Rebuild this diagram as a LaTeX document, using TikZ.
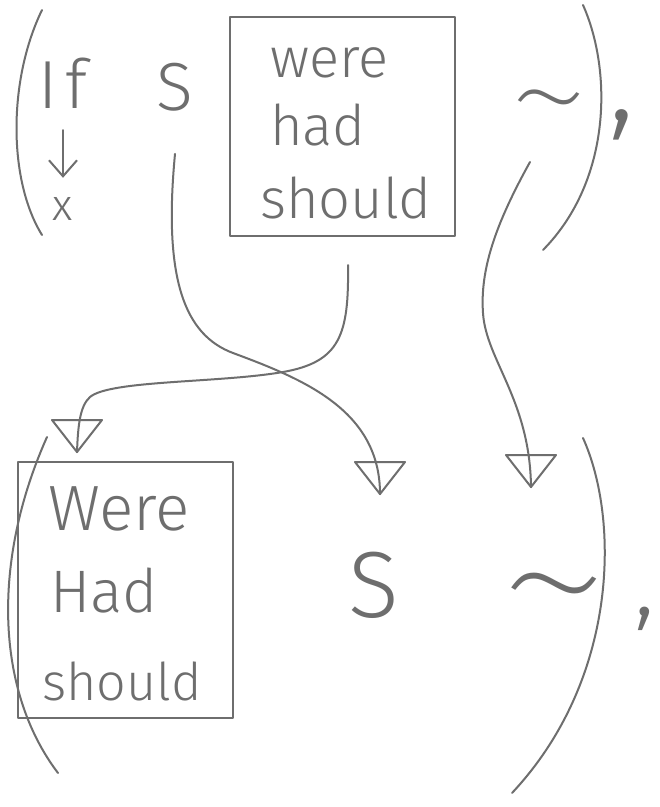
\documentclass[tikz,border=0pt]{standalone}
\usepackage{fontspec}
\IfFontExistsTF{Fira Sans Light}{\setmainfont{Fira Sans Light}}{\setmainfont{Fira Sans}}
\IfFontExistsTF{Fira Sans Thin}{\newfontfamily\thinfont{Fira Sans Thin}}{\newfontfamily\thinfont{Fira Sans}}
\usetikzlibrary{arrows.meta}
\definecolor{ink}{HTML}{6E6E6E}
\newcommand\fsz[1]{\fontsize{#1}{#1}\selectfont}
\tikzset{
  stroke/.style={draw=ink, line width=2pt, line cap=round, line join=round},
  word/.style={text=ink, inner sep=0pt, anchor=base west},
  sym/.style={text=ink, inner sep=0pt, anchor=base},
  frame/.style={stroke, inner sep=0pt},
  opentip/.pic={\draw[stroke] (-25,-32) -- (25,-32) -- (0,0) -- cycle;},
  downarrow/.style={stroke, -{Straight Barb[length=16pt,width=28pt,line width=2pt]}}
}
\begin{document}
\begin{tikzpicture}[x=1pt,y=-1pt]
\useasboundingbox (0,0) rectangle (660,807);
\fill[white] (0,0) rectangle (660,807);

% ---------- top row ----------
\draw[stroke] (42,10) .. controls (8,80) and (8,180) .. (42,235);
\node[sym, font=\fsz{68}] (if) at (63,108) {I\kern8pt f};
\node[sym, font=\fsz{44}] (x) at (63,220) {x};
\draw[downarrow, shorten <=22pt, shorten >=19pt] (if.south) -- (x.north);
\node[sym, font=\fsz{68}] (s1) at (175,110) {S};
\node[frame, minimum width=225pt, minimum height=219pt] (box1) at (342.5,126.5) {};
\node[word, font=\fsz{56}] (were1) at (270,77) {were};
\node[word, font=\fsz{56}] (had1) at (270,145) {had};
\node[word, font=\fsz{56}] (should1) at (260,218) {should};
\node[sym, font=\thinfont\fsz{195}] (t1) at (549,159) {\textasciitilde};
\draw[stroke] (583,5) .. controls (612,70) and (612,180) .. (543,250);
\node[sym, font=\fsz{130}] (c1) at (622,120) {,};

% ---------- bottom row ----------
\draw[stroke] (47,437) .. controls (-8,560) and (-5,690) .. (58,773);
\node[frame, minimum width=215pt, minimum height=256pt] (box2) at (125.5,590) {};
\node[word, font=\fsz{64}] (were2) at (48,530) {Were};
\node[word, font=\fsz{60}] (had2) at (50,612) {Had};
\node[word, font=\fsz{52}] (should2) at (42,700) {should};
\node[sym, font=\fsz{94}] (s2) at (374,617) {S};
\node[sym, font=\thinfont\fsz{270}] (t2) at (554,669) {\textasciitilde};
\draw[stroke] (583,438) .. controls (620,520) and (618,680) .. (512,793);
\node[sym, font=\fsz{100}] (c2) at (645,615) {,};

% ---------- connectors ----------
\coordinate (tipbox) at (77,452);
\coordinate (tips) at (380,494);
\coordinate (tipt) at (531,487);

\draw[stroke] ([xshift=5.5pt,yshift=-28pt]box1.south)
  .. controls (349,335) and (340,362) .. (283,372)
  .. controls (220,383) and (110,380) .. (90,397)
  .. controls (80,406) and (78,425) .. (tipbox);
\draw[stroke] ([yshift=-43pt]s1.south)
  .. controls (163,280) and (185,335) .. (233,353)
  .. controls (303,379) and (380,410) .. (tips);
\draw[stroke] ([shift={(-19pt,-3pt)}]t1.base)
  .. controls (495,225) and (480,270) .. (483,313)
  .. controls (486,360) and (530,400) .. (tipt);

\pic at (tipbox) {opentip};
\pic at (tips) {opentip};
\pic at (tipt) {opentip};
\end{tikzpicture}
\end{document}
